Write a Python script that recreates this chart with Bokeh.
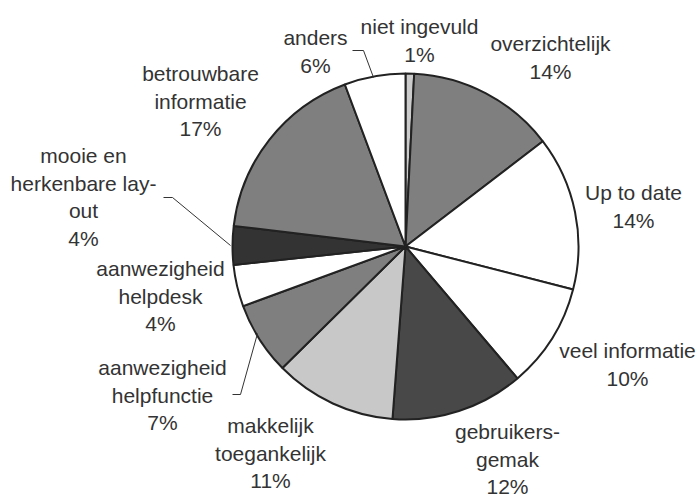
import math
from bokeh.plotting import figure
from bokeh.models import Range1d, ColumnDataSource
from bokeh.core.properties import value
from bokeh.embed import file_html
from bokeh.resources import INLINE

# ---- data ----
categories = ["niet ingevuld", "overzichtelijk", "Up to date", "veel informatie",
              "gebruikers-\ngemak", "makkelijk\ntoegankelijk", "aanwezigheid\nhelpfunctie",
              "aanwezigheid\nhelpdesk", "mooie en\nherkenbare lay-\nout",
              "betrouwbare\ninformatie", "anders"]
shares = [0.8, 13.8, 14.4, 9.8, 12.4, 11.4, 6.8, 3.9, 3.6, 17.4, 5.7]
fills = ["#cccccc", "#7f7f7f", "#ffffff", "#ffffff", "#484848", "#c8c8c8",
         "#7f7f7f", "#ffffff", "#333333", "#7f7f7f", "#ffffff"]

# ---- layout (pixel positions, y from top) ----
W, H = 698, 498
CX, CY, R = 405, 246, 173
label_pos = [(419, 26), (550, 43), (633, 192), (627, 350), (507, 431), (270, 425),
             (162, 367), (160, 268), (83, 155), (200, 73), (315, 37)]
LINE_H = 27.5
leaders = [
    [(352, 50), (363, 50), (373, 77)],
    [(163, 197), (172, 197), (230, 245)],
    [(232, 394), (240, 394), (257, 333)],
]

p = figure(width=W, height=H, x_range=Range1d(0, W), y_range=Range1d(0, H),
           min_border=0, toolbar_location=None, output_backend="svg")
p.axis.visible = False
p.grid.visible = False
p.outline_line_color = None
p.background_fill_color = "white"
p.border_fill_color = "white"

total = sum(shares)
starts, ends = [], []
cum = 0.0
for s in shares:
    a0 = math.pi / 2 - 2 * math.pi * cum / total
    cum += s
    a1 = math.pi / 2 - 2 * math.pi * cum / total
    starts.append(a0)
    ends.append(a1)

src = ColumnDataSource(dict(start=starts, end=ends, fill=fills))
p.wedge(x=CX, y=H - CY, radius=R, start_angle="start", end_angle="end",
        direction="clock", fill_color="fill", line_color="#222222", line_width=2,
        source=src)

for pts in leaders:
    p.line([q[0] for q in pts], [H - q[1] for q in pts], line_color="#333333", line_width=1)

tx, ty, tt = [], [], []
for cat, s, (lx, ly) in zip(categories, shares, label_pos):
    lines = cat.split("\n") + [f"{round(s)}%"]
    for i, ln in enumerate(lines):
        tx.append(lx)
        ty.append(H - (ly + i * LINE_H))
        tt.append(ln)

p.text(x=tx, y=ty, text=tt, text_align="center", text_baseline="middle",
       text_font=value("Liberation Sans"), text_font_size="21px", text_color="#333333")

open("out.html", "w").write(file_html(p, INLINE))
